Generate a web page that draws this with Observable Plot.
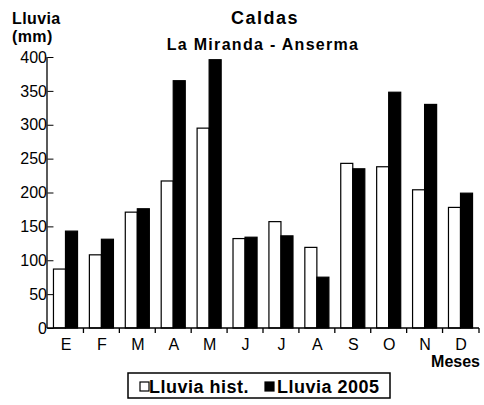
<!DOCTYPE html>
<html><head><meta charset="utf-8">
<script src="https://cdn.jsdelivr.net/npm/d3@7"></script>
<script src="https://cdn.jsdelivr.net/npm/@observablehq/plot@0.6"></script>
<style>body{margin:0;background:#fff} svg{display:block}</style>
</head><body><div id="chart"></div>
<script>
const monthLabels = ["E","F","M","A","M","J","J","A","S","O","N","D"];
const monthKeys = [0,1,2,3,4,5,6,7,8,9,10,11];
const seriesNames = ["Lluvia hist.", "Lluvia 2005"];
const lluviaHist = [87,108,171,217,295,132,157,119,243,238,204,178];
const lluvia2005 = [143,131,176,365,396,134,136,75,235,348,330,199];
const yTicks = [0,50,100,150,200,250,300,350,400];
const titleText = "Caldas";
const subtitleText = "La Miranda - Anserma";
const yLabelLines = ["Lluvia","(mm)"];
const xLabelText = "Meses";

const data = monthKeys.flatMap(i => [
  {m: i, s: seriesNames[0], v: lluviaHist[i]},
  {m: i, s: seriesNames[1], v: lluvia2005[i]}
]);

const font = "'Liberation Sans', Arial, Helvetica, sans-serif";

const plot = Plot.plot({
  width: 484, height: 405,
  marginLeft: 47, marginRight: 5, marginTop: 57, marginBottom: 77,
  style: {fontFamily: font, fontSize: "16px", background: "white", color: "black"},
  fx: {domain: monthKeys, paddingInner: 0.33, paddingOuter: 0.18, round: false, tickSize: 0, tickPadding: 10,
       tickFormat: i => monthLabels[i], label: null, axis: "bottom"},
  x: {domain: seriesNames, padding: 0, round: false, axis: null},
  y: {domain: [0, 400], ticks: yTicks, tickSize: 6, tickPadding: 1, label: null},
  color: {domain: seriesNames, range: ["white", "black"]},
  marks: [
    Plot.barY(data, {fx: "m", x: "s", y: "v", fill: "s", stroke: "black", strokeWidth: 1.2, inset: 0})
  ]
});
document.getElementById("chart").appendChild(plot);

const svg = d3.select(plot);
const fx = plot.scale("fx"), y = plot.scale("y");
const y0 = y.apply(0), yTop = y.apply(yTicks[yTicks.length - 1]);
const [xa, xb] = fx.range;
const g = svg.append("g").attr("stroke", "black").attr("stroke-width", 1.3);
g.append("line").attr("x1", xa).attr("x2", xa).attr("y1", yTop).attr("y2", y0);
g.append("line").attr("x1", xa).attr("x2", xb).attr("y1", y0).attr("y2", y0);
const bw = fx.bandwidth;
for (let k = 1; k < monthKeys.length; k++) {
  const bx = (fx.apply(monthKeys[k - 1]) + bw + fx.apply(monthKeys[k])) / 2;
  g.append("line").attr("x1", bx).attr("x2", bx).attr("y1", y0).attr("y2", y0 + 5);
}
g.append("line").attr("x1", xb).attr("x2", xb).attr("y1", y0).attr("y2", y0 + 5);

const t = svg.append("g").attr("font-family", font).attr("fill", "black")
  .attr("font-weight", "bold").attr("text-anchor", "start");
t.append("text").attr("x", 265).attr("y", 24).attr("text-anchor", "middle")
  .attr("font-size", 18).attr("letter-spacing", 1.5).text(titleText);
t.append("text").attr("x", 263).attr("y", 50).attr("text-anchor", "middle")
  .attr("font-size", 16).attr("letter-spacing", 1.3).text(subtitleText);
t.append("text").attr("x", 12).attr("y", 24).attr("font-size", 16).attr("letter-spacing", 0.4).text(yLabelLines[0]);
t.append("text").attr("x", 12).attr("y", 42).attr("font-size", 16).attr("letter-spacing", 0.4).text(yLabelLines[1]);
t.append("text").attr("x", 480).attr("y", 367).attr("text-anchor", "end")
  .attr("font-size", 16).text(xLabelText);

// legend
const color = plot.scale("color");
const lg = svg.append("g").attr("font-family", font).attr("text-anchor", "start");
lg.append("rect").attr("x", 128).attr("y", 373).attr("width", 262).attr("height", 25)
  .attr("fill", "white").attr("stroke", "black").attr("stroke-width", 1.5);
const legendItems = [{name: seriesNames[0], sx: 140, tx: 149}, {name: seriesNames[1], sx: 265, tx: 277}];
legendItems.forEach(it => {
  lg.append("rect").attr("x", it.sx).attr("y", 382).attr("width", 9).attr("height", 9)
    .attr("fill", color.apply(it.name)).attr("stroke", "black").attr("stroke-width", 1.2);
  lg.append("text").attr("x", it.tx).attr("y", 393).attr("font-size", 18).attr("font-weight", "bold")
    .attr("letter-spacing", 0.5).attr("fill", "black").text(it.name);
});
</script>
</body></html>
